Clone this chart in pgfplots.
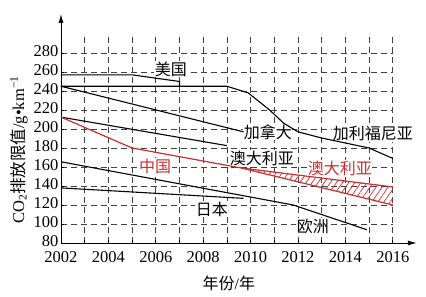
\documentclass[border=0pt]{standalone}
\usepackage{fontspec}
\setmainfont{Liberation Serif}
\newfontfamily\cjk{Noto Sans CJK SC}
\usepackage{pgfplots}
\pgfplotsset{compat=1.18}
\usepgfplotslibrary{fillbetween}
\usetikzlibrary{patterns.meta,arrows.meta}
\definecolor{cred}{RGB}{205,45,45}
\newcommand\lab{\fontsize{16}{16}\selectfont\cjk}
\begin{document}
\begin{tikzpicture}
\begin{axis}[
  scale only axis, width=331.8pt, height=209pt,
  xmin=2002, xmax=2016, ymin=80, ymax=300,
  axis lines=left,
  axis line style={line width=0.9pt},
  x axis line style={-{Latex[length=9pt,width=5pt]}, shorten >=-24pt},
  y axis line style={-{Latex[length=9pt,width=5pt]}, shorten >=-20pt},
  xtick={2002,...,2016},
  xticklabels={2002,,2004,,2006,,2008,,2010,,2012,,2014,,2016},
  ytick={80,100,...,280},
  /pgf/number format/assume math mode=true,
  tick label style={font=\fontsize{16.5}{16.5}\selectfont, inner sep=0.5pt},
  every x tick label/.append style={yshift=-8pt},
  every y tick label/.append style={xshift=-2pt, yshift=2pt},
  tick align=inside, major tick length=3pt,
  tick style={black, line width=0.6pt},
  grid=major,
  major grid style={black!75, line width=0.6pt, dash pattern=on 6pt off 4pt},
  clip=false,
  ylabel={CO\textsubscript{2}{\cjk 排放限值}/g\textbullet km\textsuperscript{−1}},
  ylabel style={at={(axis description cs:-0.127,0.445)}, anchor=center, font=\fontsize{16.5}{16.5}\selectfont},
  xlabel={{\cjk 年份}/{\cjk 年}},
  xlabel style={at={(axis description cs:0.506,-0.191)}, anchor=center, font=\fontsize{16}{16}\selectfont},
]
% labels
\node[fill=white, inner sep=0.5pt] at (axis cs:2006.64,263) {\lab 美国};
\node[fill=white, inner sep=0.5pt] at (axis cs:2010.73,197) {\lab 加拿大};
\node[fill=white, inner sep=0.5pt] at (axis cs:2015.16,195) {\lab 加利福尼亚};
\node[fill=white, inner sep=0.5pt] at (axis cs:2010.48,169.5) {\lab 澳大利亚};
\node[fill=white, inner sep=0.5pt, text=cred] at (axis cs:2013.77,159) {\lab 澳大利亚};
\node[fill=white, inner sep=0.5pt, text=cred] at (axis cs:2005.97,161) {\lab 中国};
\node[fill=white, inner sep=0.5pt] at (axis cs:2008.37,115.8) {\lab 日本};
\node[fill=white, inner sep=0.5pt] at (axis cs:2012.63,97.9) {\lab 欧洲};
% USA
\addplot[black, line width=1.1pt] coordinates {(2002,257) (2005,257) (2007,250) (2007,245)};
% California
\addplot[black, line width=1.1pt] coordinates {(2002,245) (2009,245) (2009.9,238) (2010.8,220) (2011.4,206) (2012,197) (2013,190.5) (2015,180) (2016,169)};
% Canada
\addplot[black, line width=1.1pt] coordinates {(2002,245) (2009.7,197)};
% Australia
\addplot[black, line width=1.1pt] coordinates {(2002,212.5) (2009,182.5)};
% China
\addplot[cred, line width=1.2pt] coordinates {(2002,212.5) (2005,180) (2009.6,159)};
\addplot[cred, line width=1.2pt, name path=up] coordinates {(2009.6,159) (2016,139)};
\addplot[cred, line width=1.2pt, name path=lo] coordinates {(2009.6,159) (2016,120)};
\addplot[pattern={Lines[angle=55,distance=5pt,line width=0.7pt]}, pattern color=cred] fill between[of=up and lo];
% Japan
\addplot[black, line width=1.1pt] coordinates {(2002,138) (2009.7,127)};
% Europe
\addplot[black, line width=1.1pt] coordinates {(2002,165.5) (2011.8,120) (2014.9,94)};
\end{axis}
\pgfresetboundingbox
\path (-61pt,-54pt) rectangle (365pt,243pt);
\end{tikzpicture}
\end{document}
